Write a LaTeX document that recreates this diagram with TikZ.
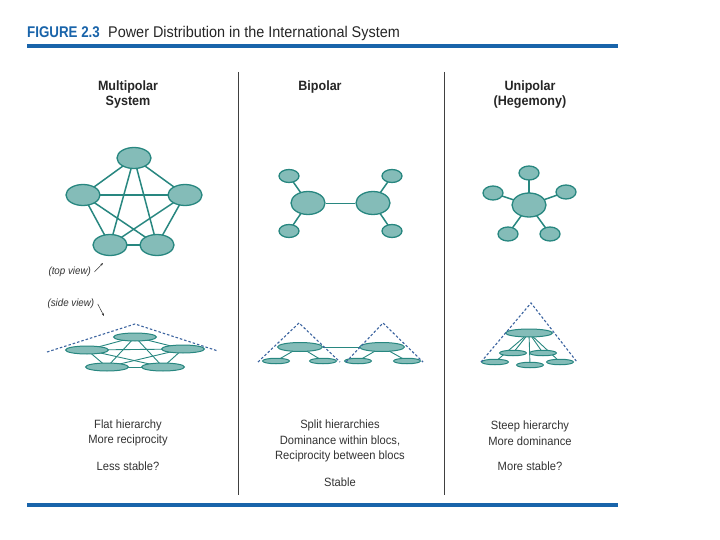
\documentclass[tikz,border=0pt]{standalone}
\usepackage{fontspec}
\setmainfont{Liberation Sans}[FakeStretch=0.93]
\newfontfamily\figfont{Liberation Sans Bold}[FakeStretch=0.86]
\usetikzlibrary{shapes.geometric,arrows.meta}
\definecolor{tealfill}{RGB}{132,188,184}
\definecolor{tealline}{RGB}{40,135,128}
\definecolor{dashblue}{RGB}{60,100,160}
\definecolor{figblue}{RGB}{25,100,170}
\pgfdeclarelayer{bg}\pgfdeclarelayer{edges}\pgfsetlayers{bg,edges,main}
\tikzset{
  pnode/.style={ellipse,draw=tealline,fill=tealfill,line width=1.3pt,inner sep=0pt},
  big/.style={pnode,minimum width=34pt,minimum height=21pt},
  small/.style={pnode,minimum width=20pt,minimum height=13pt},
  flat/.style={pnode,line width=1pt,minimum width=43pt,minimum height=8pt},
  flatsmall/.style={pnode,line width=1pt,minimum width=27pt,minimum height=5.5pt},
  link/.style={draw=tealline,line width=1.5pt},
  thinlink/.style={draw=tealline,line width=0.9pt},
  roof/.style={draw=dashblue,line width=1.1pt,dash pattern=on 2.5pt off 2pt},
  head/.style={font=\fontsize{13.5}{15}\selectfont\bfseries,align=center,text=black!85},
  body/.style={font=\fontsize{12}{15.5}\selectfont,align=center,text=black!80},
  note/.style={font=\fontsize{10.5}{11}\selectfont\itshape,text=black!80},
  divider/.style={draw=black!75,line width=0.8pt},
  bluebar/.style={draw=figblue,line width=3.5pt},
}
\begin{document}
\begin{tikzpicture}[x=1pt,y=-1pt]
\useasboundingbox (0,0) rectangle (720,540);
\begin{pgfonlayer}{bg}\fill[white] (0,0) rectangle (720,540);\end{pgfonlayer}
% title
\node[anchor=base west,inner sep=0pt,font=\fontsize{15.5}{16}\figfont,text=figblue] (fig) at (27,38) {FIGURE 2.3};
\node[anchor=base west,inner sep=0pt,font=\fontsize{15.5}{16}\selectfont,text=black!85] (ttl) at (108,38) {Power Distribution in the International System};
\coordinate (tb1) at (27,46); \coordinate (tb2) at (618,46);
\draw[bluebar] (tb1) -- (tb2);
\coordinate (bb1) at (27,505); \coordinate (bb2) at (618,505);
\draw[bluebar] (bb1) -- (bb2);
% dividers
\coordinate (d1a) at (238,72); \coordinate (d1b) at (238,495);
\coordinate (d2a) at (444,72); \coordinate (d2b) at (444,495);
\draw[divider] (d1a) -- (d1b);
\draw[divider] (d2a) -- (d2b);
% headings
\node[head] (h1) at (128,95) {Multipolar\\System};
\node[head] (h2) at (320,87) {Bipolar};
\node[head] (h3) at (530,95) {Unipolar\\(Hegemony)};
% ---------- multipolar top ----------
\node[big] (mt) at (134,158) {};
\node[big] (ml) at (83,195) {};
\node[big] (mr) at (185,195) {};
\node[big] (mbl) at (110,245) {};
\node[big] (mbr) at (157,245) {};
\begin{pgfonlayer}{edges}
\foreach \a/\b in {mt/ml,mt/mr,mt/mbl,mt/mbr,ml/mr,ml/mbl,ml/mbr,mr/mbl,mr/mbr,mbl/mbr}
  \draw[link] (\a.center) -- (\b.center);
\end{pgfonlayer}
% notes
\node[note,anchor=west] (tv) at (45,272) {(top view)};
\coordinate (tvh) at (103,263);
\draw[-{Stealth[length=3pt]},black!80,line width=0.5pt] (tv.east) -- (tvh);
\node[note,anchor=west] (sv) at (44,304) {(side view)};
\coordinate (svh) at (104,316);
\draw[-{Stealth[length=3pt]},black!80,line width=0.5pt] (sv.east) -- (svh);
% ---------- multipolar side ----------
\node[flat] (st) at (135,337) {};
\node[flat] (sl) at (87,350) {};
\node[flat] (sr) at (183,349) {};
\node[flat] (sbl) at (107,367) {};
\node[flat] (sbr) at (163,367) {};
\begin{pgfonlayer}{edges}
\foreach \a/\b in {st/sl,st/sr,st/sbl,st/sbr,sl/sr,sl/sbl,sl/sbr,sr/sbl,sr/sbr,sbl/sbr}
  \draw[thinlink] (\a.center) -- (\b.center);
\end{pgfonlayer}
\coordinate (ra) at (47,352); \coordinate (rb) at (135,324); \coordinate (rc) at (218,351);
\draw[roof] (ra) -- (rb) -- (rc);
% ---------- bipolar top ----------
\node[big,minimum height=23pt] (bl) at (308,203) {};
\node[big,minimum height=23pt] (br) at (373,203) {};
\node[small] (blt) at (289,176) {};
\node[small] (blb) at (289,231) {};
\node[small] (brt) at (392,176) {};
\node[small] (brb) at (392,231) {};
\begin{pgfonlayer}{edges}
\draw[thinlink] (bl) -- (br);
\foreach \a/\b in {bl/blt,bl/blb,br/brt,br/brb}
  \draw[link] (\a.center) -- (\b.center);
\end{pgfonlayer}
% ---------- bipolar side ----------
\node[flat,minimum width=45pt,minimum height=9pt] (bsl) at (300,347) {};
\node[flat,minimum width=45pt,minimum height=9pt] (bsr) at (382,347) {};
\node[flatsmall] (bs1) at (276,361) {};
\node[flatsmall] (bs2) at (323,361) {};
\node[flatsmall] (bs3) at (358,361) {};
\node[flatsmall] (bs4) at (407,361) {};
\begin{pgfonlayer}{edges}
\draw[thinlink] (bsl) -- (bsr);
\foreach \a/\b in {bsl/bs1,bsl/bs2,bsr/bs3,bsr/bs4}
  \draw[thinlink] (\a.center) -- (\b.center);
\end{pgfonlayer}
\coordinate (ta1) at (258,362); \coordinate (tp1) at (299,323); \coordinate (tc1) at (340,362);
\coordinate (ta2) at (346,362); \coordinate (tp2) at (383,323); \coordinate (tc2) at (423,362);
\draw[roof] (ta1) -- (tp1) -- (tc1);
\draw[roof] (ta2) -- (tp2) -- (tc2);
% ---------- unipolar top ----------
\node[big,minimum height=24pt] (uc) at (529,205) {};
\node[small,minimum height=14pt] (ut) at (529,173) {};
\node[small,minimum height=14pt] (ul) at (493,193) {};
\node[small,minimum height=14pt] (ur) at (566,192) {};
\node[small,minimum height=14pt] (ubl) at (508,234) {};
\node[small,minimum height=14pt] (ubr) at (550,234) {};
\begin{pgfonlayer}{edges}
\foreach \b in {ut,ul,ur,ubl,ubr}
  \draw[link] (uc.center) -- (\b.center);
\end{pgfonlayer}
% ---------- unipolar side ----------
\node[flat,minimum width=47pt] (us) at (529,333) {};
\node[flatsmall] (um1) at (513,353) {};
\node[flatsmall] (um2) at (543,353) {};
\node[flatsmall] (ub1) at (495,362) {};
\node[flatsmall] (ub2) at (530,365) {};
\node[flatsmall] (ub3) at (560,362) {};
\begin{pgfonlayer}{edges}
\foreach \b in {um1,um2,ub1,ub2,ub3}
  \draw[thinlink] (us.center) -- (\b.center);
\end{pgfonlayer}
\coordinate (ua) at (481,362); \coordinate (up) at (531,303); \coordinate (uz) at (577,362);
\draw[roof] (ua) -- (up) -- (uz);
% ---------- bottom texts ----------
\node[body] (t1) at (128,433) {Flat hierarchy\\More reciprocity};
\node[body] (t1b) at (128,466) {Less stable?};
\node[body] (t2) at (340,441) {Split hierarchies\\Dominance within blocs,\\Reciprocity between blocs};
\node[body] (t2b) at (340,482) {Stable};
\node[body] (t3) at (530,433) {Steep hierarchy\\More dominance};
\node[body] (t3b) at (530,466) {More stable?};
\end{tikzpicture}
\end{document}
